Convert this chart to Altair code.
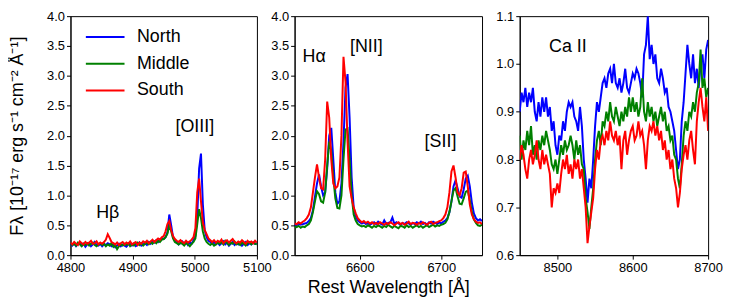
import altair as alt
import numpy as np
import pandas as pd

FONT = "Liberation Sans"
REGIONS = ["North", "Middle", "South"]
COLORS = ["#0000ff", "#008000", "#ff0000"]

# ---------------- Panel 1: H-beta / [OIII] (4800-5100, step 3 A) ----------------
wl1 = np.arange(4800, 5101, 3)
north1 = [0.19,0.16,0.20,0.15,0.18,0.21,0.16,0.19,0.14,0.18,
          0.20,0.15,0.18,0.22,0.17,0.16,0.19,0.15,0.18,0.17,
          0.20,0.18,0.15,0.17,0.13,0.16,0.19,0.15,0.18,0.16,
          0.14,0.18,0.20,0.16,0.19,0.15,0.17,0.21,0.16,0.18,
          0.20,0.17,0.22,0.19,0.24,0.21,0.25,0.22,0.26,0.28,
          0.27,0.30,0.38,0.68,0.50,0.30,0.24,0.22,0.18,0.20,
          0.23,0.19,0.22,0.17,0.21,0.19,0.25,0.32,0.65,1.45,
          1.70,0.85,0.42,0.30,0.24,0.22,0.19,0.22,0.18,0.21,
          0.17,0.20,0.23,0.18,0.21,0.16,0.19,0.22,0.17,0.20,
          0.18,0.21,0.16,0.19,0.22,0.17,0.20,0.18,0.21,0.19,0.20]
middle1 = [0.20,0.17,0.19,0.16,0.21,0.18,0.15,0.19,0.17,0.20,
           0.16,0.19,0.21,0.17,0.15,0.18,0.20,0.17,0.19,0.15,
           0.18,0.16,0.20,0.14,0.17,0.10,0.15,0.18,0.16,0.19,
           0.17,0.20,0.15,0.18,0.16,0.19,0.21,0.17,0.20,0.16,
           0.19,0.21,0.18,0.22,0.19,0.23,0.20,0.24,0.22,0.26,
           0.27,0.30,0.36,0.50,0.40,0.28,0.22,0.20,0.18,0.21,
           0.19,0.16,0.20,0.18,0.15,0.19,0.22,0.28,0.52,0.77,
           0.62,0.40,0.28,0.22,0.19,0.17,0.20,0.16,0.18,0.21,
           0.19,0.22,0.18,0.24,0.20,0.17,0.21,0.19,0.23,0.18,
           0.20,0.17,0.21,0.19,0.16,0.20,0.22,0.18,0.21,0.19,0.18]
south1 = [0.21,0.18,0.22,0.19,0.17,0.23,0.20,0.18,0.22,0.19,
          0.21,0.24,0.19,0.20,0.23,0.18,0.21,0.19,0.22,0.26,
          0.35,0.29,0.22,0.20,0.18,0.21,0.17,0.20,0.22,0.18,
          0.21,0.19,0.23,0.18,0.20,0.22,0.17,0.21,0.19,0.23,
          0.21,0.24,0.20,0.23,0.26,0.22,0.25,0.28,0.26,0.30,
          0.32,0.40,0.52,0.57,0.42,0.32,0.27,0.24,0.22,0.25,
          0.22,0.20,0.24,0.21,0.23,0.26,0.30,0.45,1.05,1.28,
          0.90,0.55,0.42,0.35,0.28,0.25,0.22,0.25,0.21,0.24,
          0.22,0.26,0.20,0.23,0.25,0.21,0.24,0.27,0.22,0.20,
          0.23,0.21,0.25,0.22,0.19,0.24,0.21,0.23,0.20,0.24,0.21]

# ---------------- Panel 2: H-alpha / [NII] / [SII] (6520-6750, step 2.5 A) ----------------
wl2 = np.arange(6520, 6750.1, 2.5)
north2 = [0.52,0.50,0.53,0.51,0.52,0.53,0.54,0.57,0.62,0.75,
          0.98,1.20,1.35,1.15,1.00,1.05,1.45,2.00,2.13,1.60,
          1.05,0.86,0.90,1.20,1.90,2.80,3.03,2.30,1.30,0.80,
          0.65,0.58,0.55,0.53,0.55,0.52,0.54,0.51,0.53,0.55,
          0.52,0.56,0.53,0.51,0.58,0.52,0.54,0.55,0.63,0.52,
          0.55,0.53,0.51,0.54,0.52,0.55,0.53,0.51,0.54,0.52,
          0.55,0.53,0.56,0.52,0.54,0.51,0.55,0.53,0.56,0.54,
          0.52,0.55,0.53,0.56,0.58,0.62,0.72,0.90,1.15,1.25,
          1.12,0.98,0.96,1.10,1.28,1.33,1.15,0.88,0.70,0.62,
          0.58,0.60,0.57]
middle2 = [0.48,0.47,0.49,0.46,0.48,0.47,0.50,0.52,0.58,0.72,
           0.90,1.07,1.02,0.90,0.88,1.05,1.50,1.90,1.75,1.30,
           0.95,0.79,0.78,1.00,1.60,2.10,2.12,1.60,1.00,0.68,
           0.58,0.52,0.50,0.48,0.49,0.47,0.50,0.48,0.46,0.49,
           0.47,0.50,0.48,0.46,0.49,0.47,0.51,0.48,0.46,0.49,
           0.47,0.45,0.49,0.48,0.46,0.50,0.47,0.49,0.46,0.48,
           0.50,0.47,0.49,0.46,0.48,0.50,0.47,0.49,0.51,0.48,
           0.50,0.49,0.51,0.52,0.54,0.60,0.72,0.90,1.08,1.12,
           0.98,0.86,0.85,0.95,1.06,1.08,0.92,0.72,0.60,0.54,
           0.50,0.49,0.51]
south2 = [0.53,0.52,0.55,0.53,0.56,0.58,0.62,0.68,0.80,1.05,
          1.30,1.52,1.30,1.12,1.10,1.60,2.57,2.30,1.60,1.20,
          1.12,1.15,1.30,2.00,3.32,2.90,1.90,1.15,0.95,0.80,
          0.70,0.62,0.58,0.55,0.57,0.54,0.56,0.53,0.55,0.52,
          0.54,0.52,0.55,0.53,0.51,0.54,0.52,0.55,0.53,0.50,
          0.53,0.55,0.52,0.54,0.51,0.53,0.56,0.52,0.54,0.53,
          0.51,0.54,0.52,0.55,0.53,0.51,0.54,0.56,0.52,0.54,
          0.55,0.57,0.58,0.62,0.68,0.80,1.05,1.40,1.50,1.30,
          1.05,1.00,1.12,1.38,1.40,1.15,0.85,0.68,0.60,0.56,
          0.54,0.55,0.52]

# ---------------- Panel 3: Ca II triplet (8450-8700, step 2.5 A) ----------------
wl3 = np.arange(8450, 8700.1, 2.5)
north3 = [0.90,0.94,0.92,0.95,0.91,0.94,0.92,0.95,0.90,0.88,
          0.92,0.89,0.93,0.90,0.93,0.89,0.91,0.86,0.88,0.83,
          0.81,0.85,0.84,0.88,0.86,0.90,0.92,0.91,0.92,0.89,
          0.88,0.86,0.91,0.87,0.80,0.76,0.71,0.76,0.74,0.80,
          0.87,0.92,0.90,0.93,0.96,0.97,0.95,0.98,0.99,0.96,
          1.00,0.96,0.95,0.97,0.94,0.96,0.99,0.95,0.94,0.96,
          0.98,0.97,0.99,0.98,0.96,0.93,1.02,1.04,1.10,1.01,
          1.04,1.00,1.02,0.97,0.96,0.99,0.97,0.94,0.95,0.91,
          0.90,0.88,0.86,0.82,0.78,0.80,0.88,0.92,0.98,1.04,
          1.00,0.97,1.02,0.96,0.99,0.95,1.00,1.02,0.97,1.03,1.05]
middle3 = [0.85,0.80,0.84,0.82,0.86,0.83,0.87,0.81,0.83,0.80,
           0.84,0.82,0.85,0.83,0.86,0.84,0.82,0.79,0.78,0.80,
           0.77,0.80,0.83,0.81,0.84,0.82,0.83,0.85,0.83,0.80,
           0.84,0.81,0.83,0.79,0.78,0.72,0.69,0.655,0.70,0.74,
           0.80,0.84,0.86,0.83,0.88,0.87,0.90,0.88,0.92,0.89,
           0.88,0.91,0.89,0.87,0.90,0.88,0.91,0.89,0.93,0.90,
           0.93,0.90,0.92,0.89,0.91,0.97,0.90,0.88,0.92,0.89,
           0.91,0.88,0.90,0.87,0.89,0.91,0.88,0.90,0.86,0.87,
           0.84,0.85,0.81,0.80,0.76,0.74,0.79,0.85,0.88,0.86,
           0.90,0.89,0.92,0.90,0.94,0.96,1.03,0.95,0.97,0.93,0.95]
south3 = [0.80,0.83,0.81,0.78,0.76,0.80,0.82,0.79,0.81,0.84,
          0.80,0.78,0.82,0.79,0.81,0.79,0.77,0.70,0.74,0.73,
          0.75,0.73,0.77,0.80,0.78,0.81,0.77,0.79,0.76,0.80,
          0.78,0.80,0.76,0.78,0.74,0.70,0.625,0.66,0.69,0.72,
          0.78,0.82,0.80,0.84,0.85,0.83,0.86,0.84,0.88,0.85,
          0.84,0.86,0.83,0.85,0.78,0.84,0.86,0.81,0.84,0.86,
          0.87,0.84,0.85,0.88,0.85,0.86,0.83,0.78,0.84,0.87,
          0.86,0.88,0.85,0.87,0.84,0.86,0.82,0.84,0.80,0.82,
          0.78,0.80,0.76,0.74,0.70,0.73,0.78,0.81,0.83,0.80,
          0.84,0.86,0.82,0.79,0.88,0.92,0.95,0.91,0.88,0.93,0.86]

# ---------------- Annotations ----------------
ann1_text = ["H\u03b2", "[OIII]"]
ann1_wl = [4860, 5000]
ann1_flux = [0.70, 2.15]
ann2_text = ["H\u03b1", "[NII]", "[SII]"]
ann2_wl = [6544, 6608, 6699]
ann2_flux = [3.32, 3.49, 1.89]
ann3_text = ["Ca II"]
ann3_wl = [8514]
ann3_flux = [1.036]

Y_TITLE = "F\u03bb [10\u207b\u00b9\u2077 erg s\u207b\u00b9 cm\u207b\u00b2 \u00c5\u207b\u00b9]"
X_TITLE = "Rest Wavelength [\u00c5]"


def make_df(wl, series):
    rows = []
    for name, vals in zip(REGIONS, series):
        for w, f in zip(wl, vals):
            rows.append({"wl": float(w), "flux": f, "region": name})
    return pd.DataFrame(rows)


def panel(wl, series, xdom, xticks, ydom, yticks, ann, width,
          legend=False, ytitle=False, xtitle=False):
    df = make_df(wl, series)
    xaxis = dict(values=xticks, format="d", labelFlush=False, labelOverlap=False)
    if xtitle:
        xaxis["titlePadding"] = 5
    yaxis = dict(values=yticks, format=".1f", labelOverlap=False, labelFlush=False)
    if ytitle:
        yaxis["titlePadding"] = 20
    x = alt.X("wl:Q", scale=alt.Scale(domain=xdom, nice=False, zero=False),
              axis=alt.Axis(**xaxis), title=X_TITLE if xtitle else None)
    y = alt.Y("flux:Q", scale=alt.Scale(domain=ydom, nice=False, zero=False),
              axis=alt.Axis(**yaxis), title=Y_TITLE if ytitle else None)
    if legend:
        leg = alt.Legend(title=None, orient="none", legendX=24, legendY=10,
                         symbolType="M-2,0H2", symbolSize=380,
                         symbolStrokeWidth=2, symbolFillColor="transparent",
                         labelFontSize=18, labelFont=FONT, labelColor="black",
                         rowPadding=7, labelOffset=21, padding=0)
    else:
        leg = None
    color = alt.Color("region:N", scale=alt.Scale(domain=REGIONS, range=COLORS),
                      legend=leg, sort=REGIONS)
    lines = alt.Chart(df).mark_line(strokeWidth=2, clip=True).encode(
        x=x, y=y, color=color)
    adf = pd.DataFrame({"wl": ann[1], "flux": ann[2], "label": ann[0]})
    texts = alt.Chart(adf).mark_text(font=FONT, fontSize=18, color="black").encode(
        x=x, y=y, text="label:N")
    return alt.layer(lines, texts).properties(width=width, height=241)


p1 = panel(wl1, [north1, middle1, south1], [4800, 5100], [4800, 4900, 5000, 5100],
           [0, 4], [0, 0.5, 1, 1.5, 2, 2.5, 3, 3.5, 4],
           (ann1_text, ann1_wl, ann1_flux), 188, legend=True, ytitle=True)
p2 = panel(wl2, [north2, middle2, south2], [6520, 6750], [6600, 6700],
           [0, 4], [0, 0.5, 1, 1.5, 2, 2.5, 3, 3.5, 4],
           (ann2_text, ann2_wl, ann2_flux), 189, xtitle=True)
p3 = panel(wl3, [north3, middle3, south3], [8450, 8700], [8500, 8600, 8700],
           [0.6, 1.1], [0.6, 0.7, 0.8, 0.9, 1.0, 1.1],
           (ann3_text, ann3_wl, ann3_flux), 190)

chart = (
    alt.hconcat(p1, p2, p3, spacing=38, bounds="flush")
    .resolve_legend(color="independent")
    .resolve_scale(color="independent")
    .properties(padding={"left": 0, "top": 0, "right": 0, "bottom": 0},
                background="white")
    .configure_view(stroke="black", strokeWidth=1)
    .configure_axis(domainColor="black", tickColor="black", labelColor="black",
                    titleColor="black", labelFont=FONT, titleFont=FONT,
                    labelFontSize=13, titleFontSize=18, titleFontWeight="normal",
                    tickSize=4, labelPadding=2, grid=False)
)

chart.save("out.html", embed_options={"renderer": "svg", "actions": False})
